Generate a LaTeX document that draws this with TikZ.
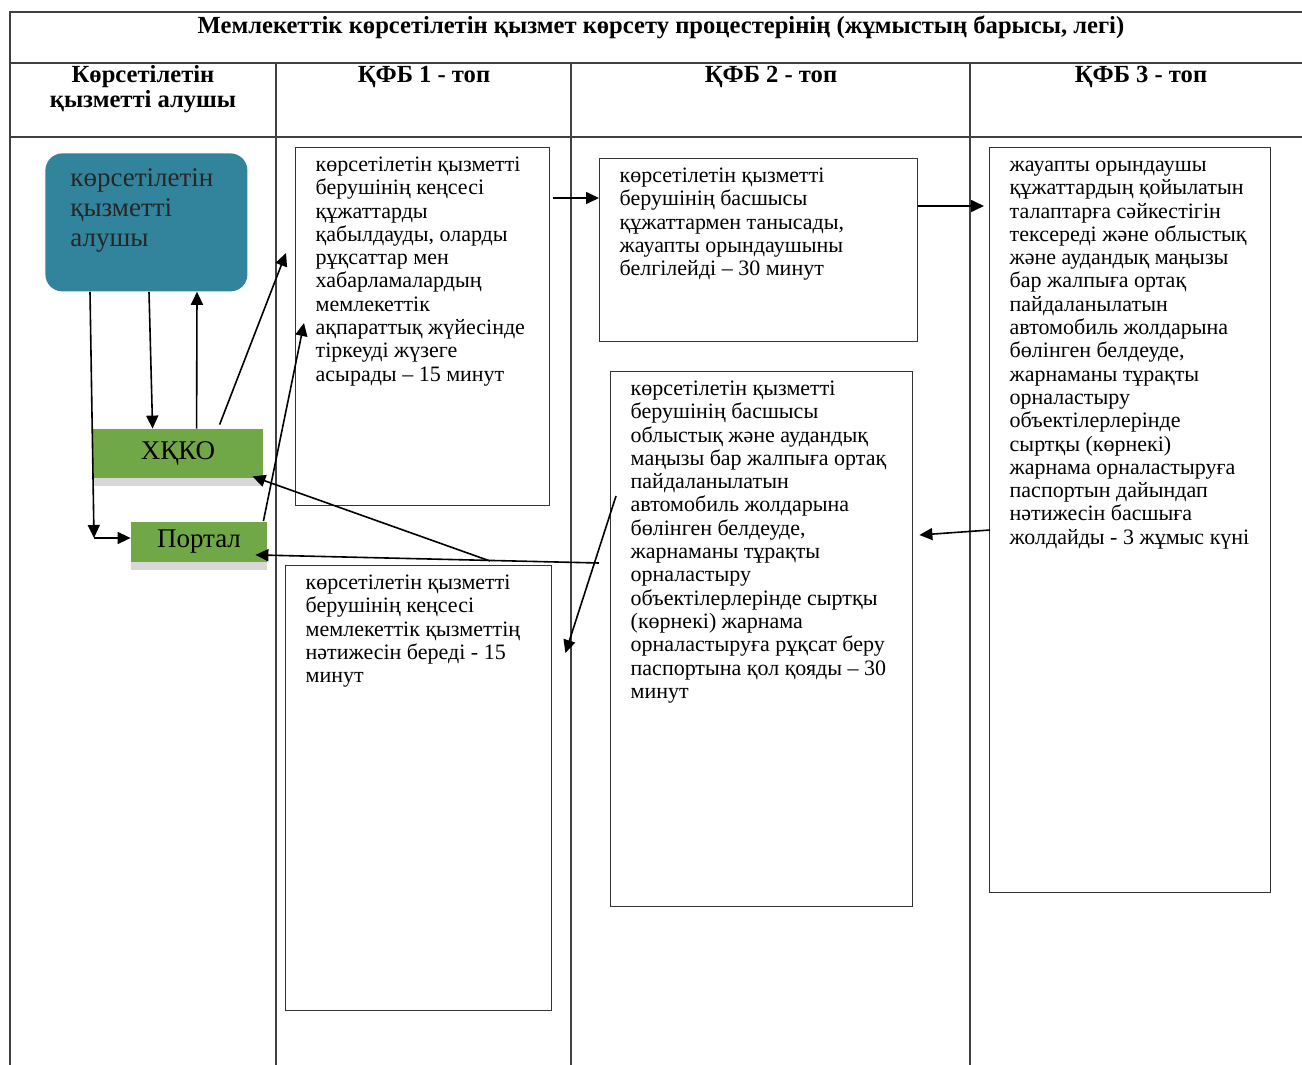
\documentclass[tikz,border=0pt]{standalone}
\usepackage{fontspec}
\setmainfont{Liberation Serif}
\usetikzlibrary{arrows.meta,shadows}

\definecolor{alushyblue}{HTML}{31849B}
\definecolor{officegreen}{HTML}{70A848}
\newcommand{\boxtext}[3]{\parbox[t][#2][t]{#1}{\begin{tabular}[t]{@{}l@{}}#3\end{tabular}}}

\begin{document}
\begin{tikzpicture}[x=0.5pt,y=-0.5pt,
  >={Triangle[length=6.5pt,width=6pt]},
  grid/.style={draw=black!75,line width=0.6pt},
  head/.style={font=\bfseries\fontsize{12.3}{12.5}\selectfont,align=center},
  stage/.style={draw=black!80,line width=0.7pt,anchor=north west,inner xsep=10pt,inner ysep=3.7pt,
    font=\fontsize{11}{11.65}\selectfont},
  office/.style={fill=officegreen,minimum height=20pt,font=\fontsize{13.5}{15}\selectfont,
    drop shadow={shadow xshift=0pt,shadow yshift=-4pt,fill=black!30}}]
\useasboundingbox (0,0) rectangle (1302,1065);
\path[grid,line width=0.9pt] (10,1065) -- (10,12) -- (1302,12);
\path[grid] (10,63) -- (1302,63);
\path[grid] (10,137) -- (1302,137);
\path[grid] (276,63) -- (276,1065);
\path[grid] (571,63) -- (571,1065);
\path[grid] (970,63) -- (970,1065);
\node[head] (t) at (661,27) {Мемлекеттік көрсетілетін қызмет көрсету процестерінің (жұмыстың барысы, легі)};
\node[head] (h1) at (143,89) {Көрсетілетін\\қызметті алушы};
\node[head] (h2) at (424,77) {ҚФБ 1 - топ};
\node[head] (h3) at (771,77) {ҚФБ 2 - топ};
\node[head] (h4) at (1141,77) {ҚФБ 3 - топ};
\node[fill=alushyblue,rounded corners=8.5pt,anchor=north west,inner xsep=12.5pt,inner ysep=6pt,
  text=black!85,font=\fontsize{13.5}{15}\selectfont] (1) at (45,153)
  {\boxtext{76pt}{57pt}{көрсетілетін\\қызметті\\алушы}};
\node[office,minimum width=85pt,minimum height=24.5pt] (2) at (178,453.5) {ХҚКО};
\node[office,minimum width=68pt] (3) at (199,541.5) {Портал};
\node[stage] (4) at (295,147) {\boxtext{107pt}{171.6pt}{көрсетілетін қызметті\\берушінің кеңсесі\\құжаттарды\\қабылдауды, оларды\\рұқсаттар мен\\хабарламалардың\\мемлекеттік\\ақпараттық жүйесінде\\тіркеуді жүзеге\\асырады – 15 минут}};
\node[stage] (5) at (285,565) {\boxtext{113pt}{215.1pt}{көрсетілетін қызметті\\берушінің кеңсесі\\мемлекеттік қызметтің\\нәтижесін береді - 15\\минут}};
\node[stage] (6) at (599,158) {\boxtext{139pt}{84.1pt}{көрсетілетін қызметті\\берушінің басшысы\\құжаттармен танысады,\\жауапты орындаушыны\\белгілейді – 30 минут}};
\node[stage] (7) at (610,371) {\boxtext{131pt}{260.1pt}{көрсетілетін қызметті\\берушінің басшысы\\облыстық және аудандық\\маңызы бар жалпыға ортақ\\пайдаланылатын\\автомобиль жолдарына\\бөлінген белдеуде,\\жарнаманы тұрақты\\орналастыру\\объектілерлерінде сыртқы\\(көрнекі) жарнама\\орналастыруға рұқсат беру\\паспортына қол қояды – 30\\минут}};
\node[stage] (8) at (989,147) {\boxtext{120.5pt}{365.1pt}{жауапты орындаушы\\құжаттардың қойылатын\\талаптарға сәйкестігін\\тексереді және облыстық\\және аудандық маңызы\\бар жалпыға ортақ\\пайдаланылатын\\автомобиль жолдарына\\бөлінген белдеуде,\\жарнаманы тұрақты\\орналастыру\\объектілерлерінде\\сыртқы (көрнекі)\\жарнама орналастыруға\\паспортын дайындап\\нәтижесін басшыға\\жолдайды - 3 жұмыс күні}};
\coordinate (c) at (94,538);
\coordinate (s) at (599,563);
\coordinate (m) at (490,561);
\path[draw,thick,->] ([xshift=22.5pt]1.south west) -- (c);
\path[draw,thick,->] (c) -- (c -| 3.west);
\path[draw,thick,->] ([xshift=52pt]1.south west) -- ([xshift=30pt]2.north west);
\path[draw,thick,->] ([xshift=52pt]2.north west) -- ([xshift=76pt]1.south west);
\path[draw,thick,->] ([xshift=63.5pt,yshift=2pt]2.north west) -- ([xshift=-4.5pt,yshift=-53pt]4.north west);
\path[draw,thick,->] ([xshift=-2pt]3.north east) -- ([xshift=4.5pt,yshift=-88pt]4.north west);
\path[draw,thick,->] ([xshift=1.5pt,yshift=-25.5pt]4.north east) -- ([yshift=-20pt]6.north west);
\path[draw,thick,->] ([yshift=-24pt]6.north east) -- ([xshift=-2.5pt,yshift=-29.5pt]8.north west);
\path[draw,thick,->] ([xshift=0.5pt,yshift=-191.5pt]8.north west) -- ([xshift=3pt,yshift=-82pt]7.north east);
\path[draw,thick,->] ([xshift=3pt,yshift=-62.5pt]7.north west) -- ([xshift=6.5pt,yshift=-44pt]5.north east);
\path[draw,thick,->] (s) -- ([xshift=-6pt,yshift=3.5pt]3.south east);
\path[draw,thick,->] (m) -- ([xshift=-5.5pt,yshift=1pt]2.south east);
\end{tikzpicture}
\end{document}
